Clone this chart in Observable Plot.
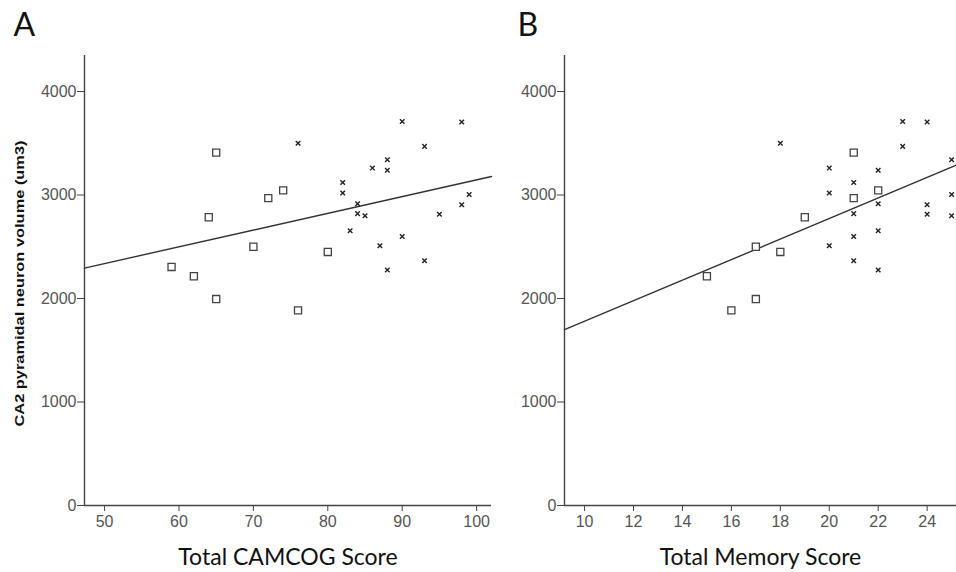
<!DOCTYPE html>
<html>
<head>
<meta charset="utf-8">
<script src="https://cdn.jsdelivr.net/npm/d3@7"></script>
<script src="https://cdn.jsdelivr.net/npm/@observablehq/plot@0.6"></script>
<style>
  html, body { margin: 0; padding: 0; background: #fff; }
  #wrap { position: relative; width: 956px; height: 572px; overflow: hidden; }
  #wrap > div, #wrap > svg { position: absolute; top: 0; }
</style>
</head>
<body>
<div id="wrap"></div>
<script>
// ---- Data ----
const yTicks = [0, 1000, 2000, 3000, 4000];
const camcogTicks = [50, 60, 70, 80, 90, 100];
const memoryTicks = [10, 12, 14, 16, 18, 20, 22, 24];

// Panel A: Total CAMCOG Score vs volume
const squaresCamcog = [65, 74, 72, 64, 70, 59, 62, 65, 76, 80];
const squaresVolumeA = [3410, 3045, 2970, 2785, 2500, 2305, 2215, 1995, 1885, 2450];
const crossesCamcog = [90, 98, 93, 88, 86, 88, 82, 82, 99, 84, 98, 84, 85, 95, 83, 90, 87, 93, 88, 76];
const crossesVolumeA = [3710, 3705, 3470, 3340, 3260, 3240, 3120, 3020, 3005, 2915, 2905, 2820, 2800, 2815, 2655, 2600, 2510, 2365, 2275, 3500];

// Panel B: Total Memory Score vs volume
const squaresMemory = [15, 16, 17, 17, 18, 19, 21, 21, 22];
const squaresVolumeB = [2215, 1885, 1995, 2500, 2450, 2785, 3410, 2970, 3045];
const crossesMemory = [23, 24, 18, 23, 25, 20, 22, 21, 20, 25, 22, 24, 21, 24, 25, 22, 21, 20, 21, 22];
const crossesVolumeB = [3710, 3705, 3500, 3470, 3340, 3260, 3240, 3120, 3020, 3005, 2915, 2905, 2820, 2815, 2800, 2655, 2600, 2510, 2365, 2275];

const yLabel = "CA2 pyramidal neuron volume (um3)";
const xLabelA = "Total CAMCOG Score";
const xLabelB = "Total Memory Score";

// ---- helpers ----
const pts = (xs, ys) => xs.map((x, i) => ({x, y: ys[i]}));
function fitLine(xs, ys, domain) {
  const mx = d3.mean(xs), my = d3.mean(ys);
  const sxy = d3.sum(xs, (x, i) => (x - mx) * (ys[i] - my));
  const sxx = d3.sum(xs, x => (x - mx) ** 2);
  const b = sxy / sxx, a = my - b * mx;
  return domain.map(x => ({x, y: a + b * x}));
}

const axisColor = "#444";
const tickText = "#555";
const titleFont = "Lato, 'Open Sans', sans-serif";
const arial = "'Liberation Sans', Arial, sans-serif";

function panel({letter, letterDx, xDomain, xTicks, sq, cr, xLabel, showY, width, marginLeft, marginRight}) {
  const allX = sq.map(d => d.x).concat(cr.map(d => d.x));
  const allY = sq.map(d => d.y).concat(cr.map(d => d.y));
  const line = fitLine(allX, allY, xDomain);
  const marks = [
    Plot.axisY({ticks: yTicks, tickSize: 7, tickPadding: 1, stroke: axisColor, fill: tickText, fontSize: 16, tickFormat: d => String(d), label: null}),
    Plot.axisX({ticks: xTicks, tickSize: 6, tickPadding: 4, stroke: axisColor, fill: tickText, fontSize: 16, label: null}),
    Plot.ruleX([xDomain[0]], {stroke: axisColor, strokeWidth: 1.4}),
    Plot.ruleY([0], {stroke: axisColor, strokeWidth: 1.4}),
    Plot.line(line, {x: "x", y: "y", stroke: "#333", strokeWidth: 1.4}),
    Plot.dot(sq, {x: "x", y: "y", symbol: "square", r: 4, stroke: "#444", strokeWidth: 1.3, fill: "white"}),
    Plot.dot(cr, {x: "x", y: "y", symbol: "times", r: 2.2, stroke: "#222", strokeWidth: 1.4}),
    Plot.text([xLabel], {frameAnchor: "bottom", lineAnchor: "middle", dy: 52, fontSize: 23, fontFamily: titleFont, fill: "#111"}),
    Plot.text([letter], {frameAnchor: "top-left", textAnchor: "start", lineAnchor: "middle", dx: letterDx, dy: -30, fontSize: 32, fontFamily: titleFont, fill: "#111"})
  ];
  if (showY) {
    marks.push(Plot.text([yLabel], {frameAnchor: "left", textAnchor: "middle", lineAnchor: "middle", rotate: -90, dx: -65, dy: 3, fontWeight: "bold", fontSize: 13.5, fontFamily: arial, fill: "#111"}));
  }
  const svg = Plot.plot({
    width, height: 572,
    marginTop: 55, marginBottom: 67, marginLeft, marginRight,
    style: {fontFamily: arial, fontSize: "16px", background: "white", overflow: "visible"},
    x: {domain: xDomain},
    y: {domain: [0, 4348]},
    marks
  });
  d3.select(svg).selectAll("text")
    .filter(function() { return this.textContent === yLabel; })
    .attr("textLength", 286).attr("lengthAdjust", "spacingAndGlyphs");
  return svg;
}

const wrap = document.getElementById("wrap");
const A = panel({
  letter: "A", letterDx: -71, xDomain: [47.3, 102], xTicks: camcogTicks,
  sq: pts(squaresCamcog, squaresVolumeA), cr: pts(crossesCamcog, crossesVolumeA),
  xLabel: xLabelA, showY: true, width: 500, marginLeft: 84, marginRight: 9
});
A.style.left = "0px";
const B = panel({
  letter: "B", letterDx: -47, xDomain: [9.18, 25.2], xTicks: memoryTicks,
  sq: pts(squaresMemory, squaresVolumeB), cr: pts(crossesMemory, crossesVolumeB),
  xLabel: xLabelB, showY: false, width: 456, marginLeft: 64, marginRight: 0
});
B.style.left = "500px";
wrap.appendChild(A);
wrap.appendChild(B);
</script>
</body>
</html>
